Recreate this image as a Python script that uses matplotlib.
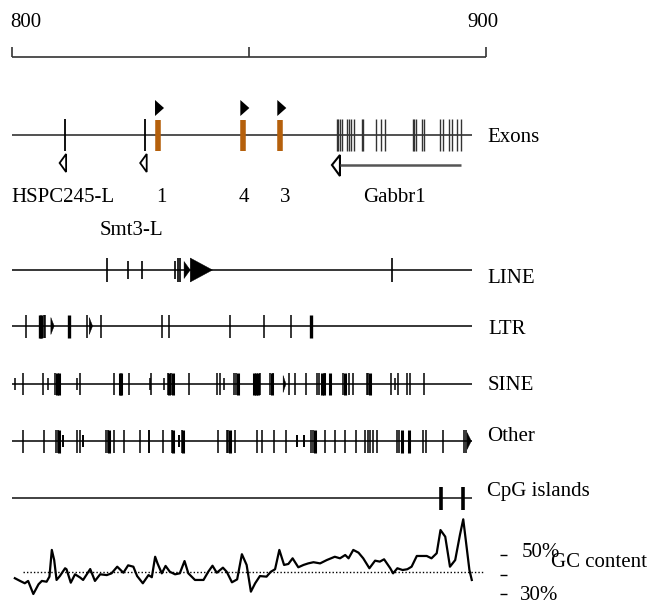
import matplotlib.pyplot as plt

plt.rcParams['font.family'] = ['Liberation Serif', 'DejaVu Serif']
plt.rcParams['font.size'] = 15

# --- data (positions in kb) ---
scale_ticks = [800, 850, 900]
scale_labels = ['800', '900']

hspc245_exon = 811.1
smt3_exon = 828.1
novel_exons = [830.7, 848.7, 856.5]
novel_labels = ['1', '4', '3']
novel_label_pos = [831.5, 849.0, 857.6]
gabbr1_exons = [868.5, 868.8, 869.2, 869.6, 870.6, 871.2, 871.5, 872.2, 873.8, 874.1,
                876.8, 877.8, 878.7, 884.5, 884.8, 885.2, 886.4, 886.9, 890.2, 890.9,
                892.1, 892.8, 893.8, 894.7]
gabbr1_span = (867.5, 894.7)

line_full = [820.1, 835.1, 835.5, 880.1]
line_part = [824.5, 827.4, 834.3]
line_tri = [(836.3, 837.6), (837.6, 842.3)]

ltr_thin = [803.0, 806.8, 807.0, 815.9, 818.7, 831.6, 833.2, 846.0, 853.2, 858.9]
ltr_thick = [805.9, 806.2, 812.0, 863.1]
ltr_tri = [(808.2, 808.9), (816.3, 817.0)]

sine_thin = [802.4, 806.5, 809.1, 814.3, 821.6, 824.7, 829.3, 832.9, 833.5, 837.4,
             843.2, 843.9, 846.9, 847.2, 852.3, 854.4, 855.1, 858.5, 859.7, 862.0,
             864.3, 864.8, 866.1, 869.9, 871.0, 871.9, 874.8, 875.2, 880.0, 881.5,
             883.3, 884.0, 886.9]
sine_thick = [809.4, 810.0, 822.8, 823.0, 833.2, 834.0, 847.6, 851.0, 851.4, 851.9,
              854.8, 865.3, 865.8, 867.0, 870.3, 875.5]
sine_short = [800.6, 807.5, 813.7, 829.1, 832.1, 844.7, 880.8]
sine_tri = [(857.2, 857.8)]

other_thin = [802.3, 806.8, 809.3, 809.6, 813.8, 814.3, 819.8, 820.2, 821.6, 823.6,
              827.0, 828.8, 829.0, 831.9, 833.8, 835.8, 843.5, 845.3, 845.6, 847.1,
              851.6, 852.7, 855.3, 857.8, 863.0, 863.4, 866.0, 868.1, 870.3, 872.6,
              874.5, 875.2, 875.5, 876.2, 877.1, 881.3, 881.7, 886.8, 887.4, 891.0,
              895.4, 895.8]
other_thick = [810.0, 820.5, 834.0, 836.0, 846.0, 863.9, 882.2, 883.8]
other_short = [810.7, 815.0, 835.2, 860.2, 861.7]
other_tri = [(896.0, 896.9)]

cpg_islands = [890.5, 895.2]

gc_pos = [800.6, 801.7, 802.7, 803.4, 804.5, 805.6, 806.3, 807.3, 807.9, 808.4,
          808.9, 809.4, 810.1, 811.2, 811.5, 812.4, 813.3, 814.4, 815.0, 816.5,
          817.5, 818.6, 820.0, 821.0, 822.2, 823.5, 824.5, 825.6, 826.4, 827.6,
          828.8, 829.5, 830.2, 830.7, 831.6, 832.4, 833.3, 834.4, 835.4, 836.4,
          837.2, 838.6, 840.4, 841.4, 842.3, 843.2, 844.5, 845.3, 846.4, 847.5,
          848.5, 849.5, 850.4, 851.3, 852.3, 853.7, 854.6, 855.5, 856.4, 857.4,
          858.3, 859.2, 860.4, 861.5, 862.5, 863.6, 865.0, 866.4, 868.1, 869.2,
          870.3, 871.0, 872.0, 873.1, 874.1, 875.4, 876.6, 877.6, 878.5, 879.8,
          880.4, 881.3, 882.4, 883.4, 884.3, 885.4, 887.5, 888.5, 889.6, 890.4,
          891.4, 892.4, 893.5, 894.5, 895.2, 895.9, 896.5, 897.0]
gc_pct = [38.1, 36.7, 35.5, 36.7, 30.0, 35.0, 36.7, 36.3, 38.9, 52.6,
          47.4, 37.2, 39.2, 43.2, 42.7, 35.8, 40.1, 38.4, 37.2, 42.8,
          36.7, 40.1, 39.7, 40.6, 44.0, 40.9, 44.7, 44.0, 39.2, 35.5,
          39.7, 38.6, 49.1, 45.7, 40.6, 44.4, 41.4, 40.1, 40.6, 46.9,
          40.6, 37.2, 37.2, 41.4, 44.5, 40.9, 43.5, 41.4, 36.0, 37.5,
          50.4, 44.9, 31.2, 35.5, 39.2, 38.9, 41.4, 42.7, 52.6, 44.9,
          45.4, 48.3, 43.7, 44.9, 45.7, 46.3, 45.7, 47.4, 49.1, 48.3,
          50.0, 48.3, 52.6, 51.2, 48.3, 43.2, 47.1, 46.6, 47.8, 43.2,
          40.6, 43.2, 42.3, 42.7, 44.0, 49.5, 49.5, 48.3, 50.9, 62.8,
          59.4, 44.0, 47.4, 60.3, 68.3, 54.3, 42.3, 37.2]
gc_average = 41.3
gc_ticks = [50, 40, 30]

# --- layout ---
W, H = 651, 603
PX = 100 / 474          # kb per pixel
track_start, track_end = 800, 897.1
orange = '#b5600c'

fig = plt.figure(figsize=(W / 100, H / 100), dpi=100)
ax = fig.add_axes([0, 0, 1, 1])
ax.set_xlim(800 - 12 * PX, 800 + (W - 12) * PX)
ax.set_ylim(H, 0)
ax.axis('off')


def ticks(xs, row, half, lw=1.0, color='black'):
    ax.vlines(xs, row - half, row + half, color=color, lw=lw)


def arrows(spans, row):
    for a, b in spans:
        half = 12 if b - a > 2 else 8.5
        ax.fill([a, b, a], [row - half, row, row + half], color='black', lw=0.3)


# scale bar
ax.hlines(57, scale_ticks[0], scale_ticks[-1], color='#333', lw=1.2)
ax.vlines(scale_ticks, 47, 57, color='#333', lw=1.2)
ax.text(scale_ticks[0] - 0.4, 27, scale_labels[0], ha='left', va='baseline')
ax.text(scale_ticks[-1] - 0.6, 27, scale_labels[1], ha='center', va='baseline')

# exons
row = 135
ax.hlines(row, track_start, track_end, color='#222', lw=1.1)
ticks([hspc245_exon, smt3_exon], row, 16, lw=1.3)
ticks(novel_exons, row, 15.5, lw=4, color=orange)
ticks(gabbr1_exons, row, 16, lw=1.0, color='#333')
for x in novel_exons:
    left = x - 2.5 * PX
    ax.fill([left, left + 9 * PX, left], [100, 108, 116], color='black', lw=0)
for x, lab in zip(novel_label_pos, novel_labels):
    ax.text(x, 202, lab, ha='center', va='baseline')
for x in [hspc245_exon, smt3_exon]:
    ax.fill([x + 1.5 * PX, x - 5 * PX, x + 1.5 * PX], [154, 163, 172],
            facecolor='white', edgecolor='black', lw=1.3)
ax.hlines(165, gabbr1_span[0] + 8 * PX, gabbr1_span[1], color='#555', lw=1.8)
g0 = gabbr1_span[0]
ax.fill([g0 + 8 * PX, g0, g0 + 8 * PX], [155, 165, 176],
        facecolor='white', edgecolor='black', lw=1.5)
ax.text(810.7, 201.7, 'HSPC245-L', ha='center', va='baseline')
ax.text(825.2, 235, 'Smt3-L', ha='center', va='baseline')
ax.text(880.7, 202, 'Gabbr1', ha='center', va='baseline')
ax.text(900.2, 141.7, 'Exons', ha='left', va='baseline')

# LINE
row = 270
ax.hlines(row, track_start, track_end, color='black', lw=1.1)
ticks(line_full, row, 12, lw=1.2)
ticks(line_part, row, 9, lw=1.2)
arrows(line_tri, row)
ax.text(900.2, 283.3, 'LINE', ha='left', va='baseline')

# LTR
row = 326
ax.hlines(row, track_start, track_end, color='black', lw=1.1)
ticks(ltr_thin, row, 11.5, lw=1.1)
ticks(ltr_thick, row, 11.5, lw=2.4)
arrows(ltr_tri, row)
ax.text(900.5, 334.3, 'LTR', ha='left', va='baseline')

# SINE
row = 384
ax.hlines(row, track_start, track_end, color='black', lw=1.1)
ticks(sine_thin, row, 11, lw=1.1)
ticks(sine_thick, row, 11, lw=2.2)
ticks(sine_short, row, 6, lw=1.1)
arrows(sine_tri, row)
ax.text(900.4, 390, 'SINE', ha='left', va='baseline')

# Other
row = 441
ax.hlines(row, track_start, track_end, color='black', lw=1.1)
ticks(other_thin, row, 11.5, lw=1.1)
ticks(other_thick, row, 11.5, lw=2.2)
ticks(other_short, row, 6, lw=1.4)
arrows(other_tri, row)
ax.text(900.2, 441, 'Other', ha='left', va='baseline')

# CpG islands
row = 498
ax.hlines(row, track_start, track_end, color='#333', lw=1.3)
ticks(cpg_islands, row, 11.5, lw=2.6)
ax.text(900.2, 496, 'CpG islands', ha='left', va='baseline')

# GC content (own axis in % GC; 50% sits at pixel row 555, 30% at row 594)
bottom_row, top_row = 603, 500
gc_at = lambda r: 50 - (r - 555) / 1.95
ax_gc = fig.add_axes([0, 0, 1, (bottom_row - top_row) / H])
ax_gc.set_xlim(ax.get_xlim())
ax_gc.set_ylim(gc_at(bottom_row), gc_at(top_row))
ax_gc.axis('off')
ax_gc.plot(gc_pos, gc_pct, color='black', lw=1.6)
ax_gc.hlines(gc_average, 802.3, 899.4, color='black', lw=1.0, linestyles=(0, (1, 1.5)))
ax_gc.hlines(gc_ticks, 903.0, 904.4, color='black', lw=1.0)

ax.text(907.6, 557, '50%', ha='left', va='baseline')
ax.text(913.7, 567, 'GC content', ha='left', va='baseline')
ax.text(907.2, 599.5, '30%', ha='left', va='baseline')

fig.savefig('out.png', dpi=100)
